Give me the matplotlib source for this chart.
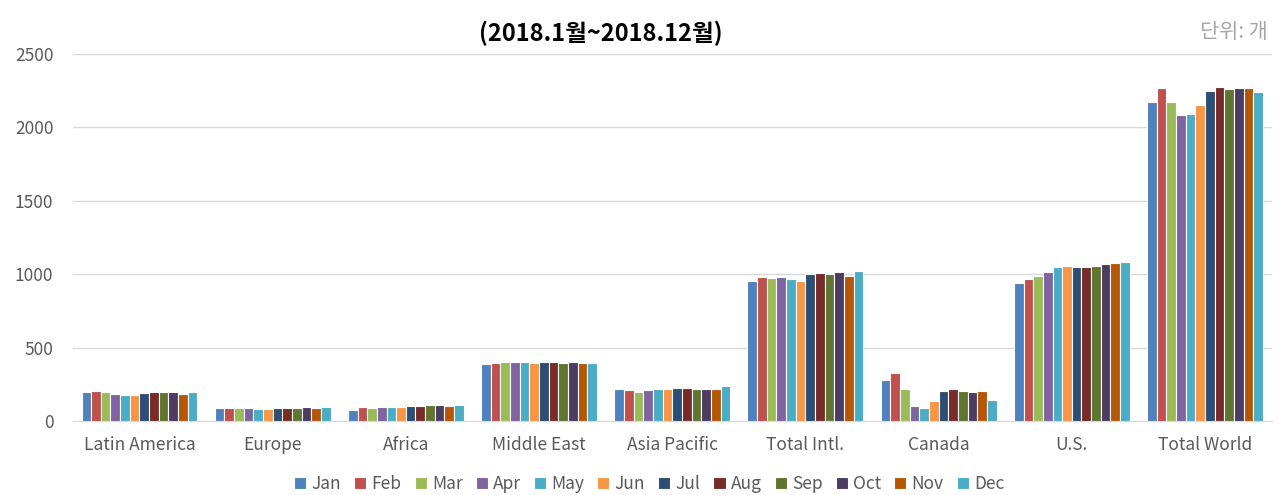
import numpy as np
import matplotlib.pyplot as plt

plt.rcParams['font.family'] = ['Noto Sans CJK KR', 'DejaVu Sans']

# 지역별 월간 값
regions = ['Latin America', 'Europe', 'Africa', 'Middle East', 'Asia Pacific',
           'Total Intl.', 'Canada', 'U.S.', 'Total World']
months = ['Jan', 'Feb', 'Mar', 'Apr', 'May', 'Jun',
          'Jul', 'Aug', 'Sep', 'Oct', 'Nov', 'Dec']

latin_america = [195, 203, 196, 187, 180, 178, 194, 195, 197, 195, 185, 195]
europe = [88, 88, 88, 88, 84, 82, 86, 88, 88, 93, 88, 93]
africa = [77, 93, 86, 93, 93, 93, 102, 102, 111, 111, 102, 111]
middle_east = [385, 395, 400, 400, 400, 395, 402, 402, 393, 402, 395, 395]
asia_pacific = [218, 209, 200, 209, 218, 218, 227, 227, 218, 218, 218, 236]
total_intl = [956, 981, 972, 981, 965, 954, 999, 1006, 1004, 1015, 990, 1022]
canada = [277, 327, 218, 102, 86, 136, 202, 218, 202, 195, 202, 143]
us = [938, 965, 988, 1015, 1047, 1056, 1047, 1047, 1056, 1067, 1074, 1081]
total_world = [2175, 2266, 2175, 2084, 2093, 2150, 2250, 2275, 2259, 2266, 2266, 2241]

colors = ['#4F81BD', '#C0504D', '#9BBB59', '#8064A2', '#4BACC6', '#F79646',
          '#2C4D75', '#772C2A', '#5F7530', '#4D3B62', '#B65708', '#4BACC6']

data = np.array([latin_america, europe, africa, middle_east, asia_pacific,
                 total_intl, canada, us, total_world])

fig = plt.figure(figsize=(12.78, 4.95), dpi=100)
ax = fig.add_axes([0.057, 0.1495, 0.938, 0.7415])

x = np.arange(len(regions))
group_w = 0.87
bw = group_w / len(months)
for i, m in enumerate(months):
    ax.bar(x - group_w / 2 + bw * (i + 0.5), data[:, i], width=bw,
           color=colors[i], edgecolor='white', linewidth=0.8, label=m, zorder=3)

ax.set_xlim(-0.5, len(regions) - 0.5)
ax.set_ylim(0, 2500)
ax.set_yticks(np.arange(0, 2501, 500))
ax.set_xticks(x)
ax.set_xticklabels(regions)
ax.grid(axis='y', color='#D9D9D9', linewidth=1, zorder=0)
for s in ['top', 'right', 'left']:
    ax.spines[s].set_visible(False)
ax.spines['bottom'].set_color('#D9D9D9')
ax.tick_params(axis='both', length=0, labelsize=12.5, colors='#595959')
ax.tick_params(axis='x', pad=11)
ax.tick_params(axis='y', pad=14)

fig.text(0.47, 0.932, '(2018.1월~2018.12월)', ha='center', va='center',
         fontsize=17, fontweight='bold', color='black')
fig.text(0.992, 0.935, '단위: 개', ha='right', va='center',
         fontsize=15, color='#A6A6A6')

fig.legend(loc='center', bbox_to_anchor=(0.508, 0.022), ncol=12, frameon=False,
           fontsize=12.5, handlelength=0.7, handleheight=0.7, handletextpad=0.3,
           columnspacing=0.75, labelcolor='#595959')

fig.savefig('out.png', dpi=100)
